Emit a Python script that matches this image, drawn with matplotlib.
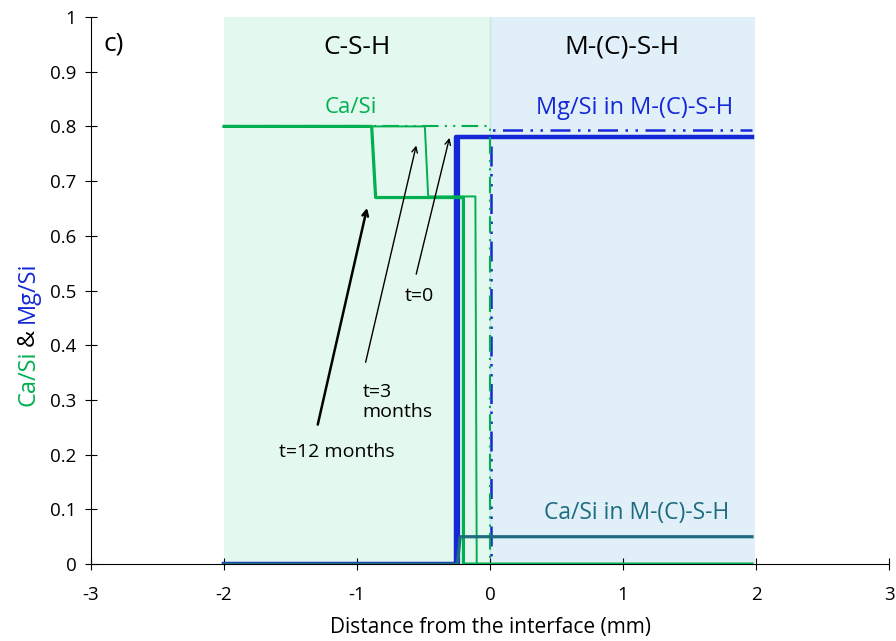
import numpy as np
import matplotlib.pyplot as plt

plt.rcParams['font.family'] = ['Open Sans', 'DejaVu Sans']

# --- data ---
# Ca/Si in C-S-H
ca_t0_x = [-2.0, 0.0, 0.0]
ca_t0_y = [0.8, 0.8, 0.0]
ca_t3_x = [-2.0, -0.49, -0.465, -0.11, -0.10, 1.97]
ca_t3_y = [0.8, 0.8, 0.672, 0.672, 0.0, 0.0]
ca_t12_x = [-2.0, -0.89, -0.86, -0.20, -0.20, 1.97]
ca_t12_y = [0.8, 0.8, 0.67, 0.67, 0.0, 0.0]
# Mg/Si in M-(C)-S-H
mg_t0_x = [-2.0, 0.01, 0.01, 1.97]
mg_t0_y = [0.0, 0.0, 0.793, 0.793]
mg_t3_x = [-2.0, -0.23, -0.23, 1.97]
mg_t3_y = [0.0, 0.0, 0.78, 0.78]
mg_t12_x = [-2.0, -0.255, -0.255, 1.97]
mg_t12_y = [0.0, 0.0, 0.78, 0.78]
# Ca/Si in M-(C)-S-H
cam_x = [-2.0, -0.245, -0.225, 1.97]
cam_y = [0.0, 0.0, 0.05, 0.05]

green = '#00b050'
blue = '#1428d8'
teal = '#1f6b80'

fig = plt.figure(figsize=(8.96, 6.41), dpi=100)
ax = fig.add_axes([0.1016, 0.120, 0.8906, 0.8535])

# zones
ax.axvspan(-2, 0, color='#e3f8ee', lw=0, zorder=0)
ax.axvspan(0, 1.99, color='#e1eff9', lw=0, zorder=0)
ax.axvline(0, color='#bfe9e6', lw=1, zorder=0.5)

ax.plot(mg_t0_x, mg_t0_y, color=blue, lw=1.8, ls=(0, (8, 3, 1, 3, 1, 3)), zorder=2)
ax.plot(mg_t3_x, mg_t3_y, color=blue, lw=1.6, zorder=2)
ax.plot(mg_t12_x, mg_t12_y, color=blue, lw=3.2, zorder=2)
ax.plot(ca_t0_x, ca_t0_y, color=green, lw=1.5, ls=(0, (8, 3, 1, 3, 1, 3)), zorder=3)
ax.plot(ca_t3_x, ca_t3_y, color=green, lw=1.4, zorder=3)
ax.plot(ca_t12_x, ca_t12_y, color=green, lw=2.3, zorder=3)
ax.plot(cam_x, cam_y, color=teal, lw=2.3, zorder=4)

# labels inside plot
ax.text(-2.91, 0.95, 'c)', fontsize=19, va='center', ha='left')
ax.text(-1.0, 0.945, 'C-S-H', fontsize=19, ha='center', va='center')
ax.text(0.99, 0.945, 'M-(C)-S-H', fontsize=19, ha='center', va='center')
ax.text(-1.05, 0.834, 'Ca/Si', fontsize=16, color=green, ha='center', va='center')
ax.text(1.09, 0.834, 'Mg/Si in M-(C)-S-H', fontsize=17, color=blue, ha='center', va='center')
ax.text(1.1, 0.093, 'Ca/Si in M-(C)-S-H', fontsize=16.5, color=teal, ha='center', va='center')

# time arrows
ax.annotate('', xy=(-0.30, 0.784), xytext=(-0.56, 0.525),
            arrowprops=dict(arrowstyle='->', color='black', lw=1.0))
ax.text(-0.53, 0.49, 't=0', fontsize=14, ha='center', va='center')
ax.annotate('', xy=(-0.55, 0.77), xytext=(-0.94, 0.364),
            arrowprops=dict(arrowstyle='->', color='black', lw=1.0))
ax.text(-0.96, 0.296, 't=3\nmonths', fontsize=14, ha='left', va='center',
        linespacing=1.15)
ax.annotate('', xy=(-0.92, 0.656), xytext=(-1.30, 0.25),
            arrowprops=dict(arrowstyle='->', color='black', lw=1.8))
ax.text(-1.59, 0.205, 't=12 months', fontsize=14, ha='left', va='center')

# axes
ax.set_xlim(-3, 3)
ax.set_ylim(0, 1)
ax.set_xticks(np.arange(-3, 4, 1))
ax.set_xticklabels([str(v) for v in range(-3, 4)])
ax.set_yticks(np.arange(0, 1.01, 0.1))
ax.set_yticklabels(['0'] + ['%.1f' % v for v in np.arange(0.1, 0.95, 0.1)] + ['1'])
ax.spines['top'].set_visible(False)
ax.spines['right'].set_visible(False)
ax.tick_params(direction='inout', length=9, width=0.8, labelsize=13.5, pad=6)
ax.tick_params(axis='x', pad=11)
ax.set_xlabel('Distance from the interface (mm)', fontsize=15, labelpad=10)

# two-coloured y label, pieces stacked bottom to top
fig.canvas.draw()
renderer = fig.canvas.get_renderer()
ypix = 235
for part, col in [('Ca/Si', green), ('&', 'black'), ('Mg/Si', blue)]:
    t = fig.text(28 / 896, ypix / 641, part, color=col, rotation=90,
                 fontsize=17, ha='center', va='bottom')
    ypix += t.get_window_extent(renderer).height + 5

fig.savefig('out.png', dpi=100)
